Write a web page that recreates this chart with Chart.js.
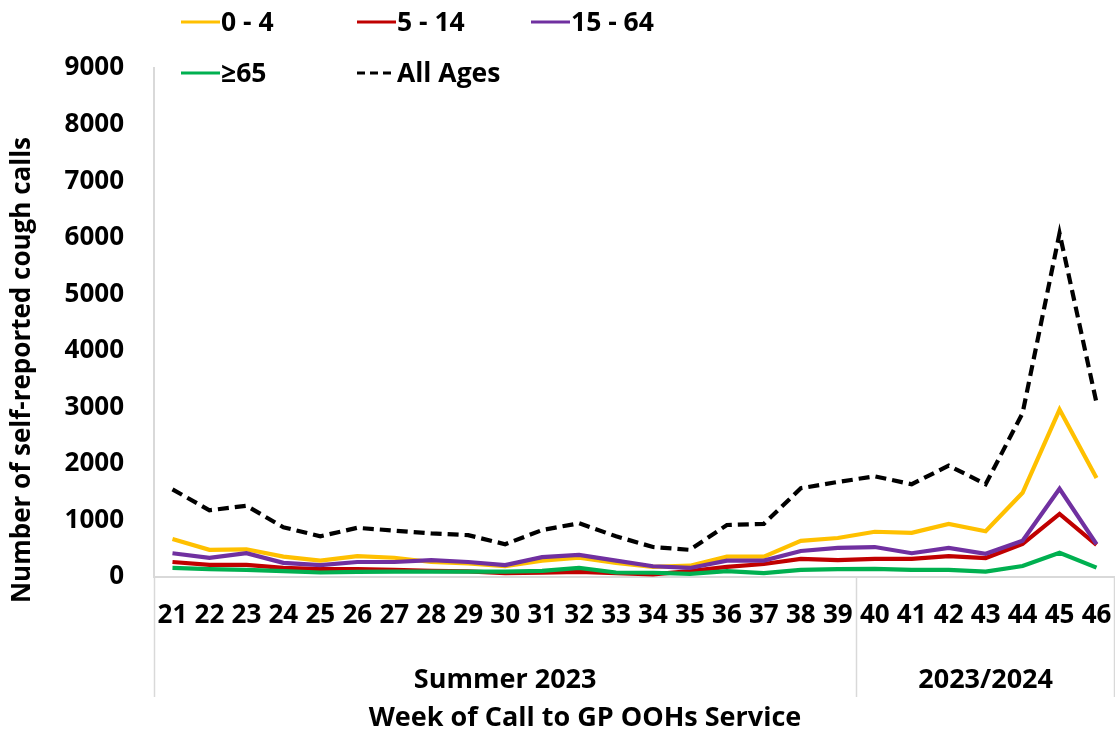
<!DOCTYPE html>
<html>
<head>
<meta charset="utf-8">
<script src="https://cdn.jsdelivr.net/npm/chart.js@4.4.1/dist/chart.umd.min.js"></script>
<style>
  html,body{margin:0;padding:0;background:#fff;}
  #wrap{width:1115px;height:732px;}
</style>
</head>
<body>
<div id="wrap"><canvas id="c" width="1115" height="732"></canvas></div>
<script>
// ---- data ----
const weeks = ['21','22','23','24','25','26','27','28','29','30','31','32','33','34','35','36','37','38','39','40','41','42','43','44','45','46'];
const groupLabels = ['Summer 2023', '2023/2024'];
const groupSizes = [19, 7];
const yTicks = [0,1000,2000,3000,4000,5000,6000,7000,8000,9000];
const seriesNames = ['0 - 4', '5 - 14', '15 - 64', '\u226565', 'All Ages'];
const age0_4   = [670,480,490,360,290,370,340,265,240,190,290,340,250,180,200,360,360,640,690,800,780,940,810,1490,2960,1750];
const age5_14  = [265,215,215,160,140,140,125,110,100,70,75,90,70,45,105,180,230,320,300,320,320,370,335,585,1115,570];
const age15_64 = [420,340,420,250,210,265,265,300,265,210,350,390,290,190,160,290,290,460,515,530,420,515,410,640,1560,580];
const age65    = [160,140,125,105,80,90,95,95,95,95,110,160,80,75,55,105,70,125,140,145,125,125,95,195,430,165];
const allAges  = [1550,1180,1260,880,720,870,820,770,740,580,830,950,720,530,480,920,940,1570,1680,1780,1640,1970,1640,2900,6080,3080];
const xTitle = 'Week of Call to GP OOHs Service';
const yTitle = 'Number of self-reported cough calls';

// ---- styles ----
const colors = ['#FFC000', '#C00000', '#7030A0', '#00B050', '#000000'];
const FONT = '"Open Sans", "Liberation Sans", sans-serif';
const AXIS_GREY = '#D9D9D9';

const seriesValues = [age0_4, age5_14, age15_64, age65, allAges];
const datasets = seriesValues.map((vals, i) => ({
  label: seriesNames[i],
  data: vals,
  borderColor: colors[i],
  backgroundColor: colors[i],
  borderWidth: 4.2,
  borderDash: i === 4 ? [11, 6] : [],
  pointRadius: 0,
  pointHoverRadius: 0,
  tension: 0,
  fill: false,
  order: 5 - i
}));

const legendPlugin = {
  id: 'customLegend',
  afterDraw(chart) {
    const ctx = chart.ctx;
    const cols = [181, 357, 531];
    const rows = [22, 73];
    ctx.save();
    ctx.font = 'bold 26.5px ' + FONT;
    ctx.textBaseline = 'middle';
    ctx.textAlign = 'left';
    chart.data.datasets.forEach((ds, i) => {
      const x = cols[i % 3], y = rows[Math.floor(i / 3)];
      ctx.beginPath();
      ctx.strokeStyle = ds.borderColor;
      ctx.lineWidth = 3;
      ctx.setLineDash(ds.borderDash && ds.borderDash.length ? [8, 5] : []);
      ctx.moveTo(x, y);
      ctx.lineTo(x + 39, y);
      ctx.stroke();
      ctx.setLineDash([]);
      ctx.fillStyle = '#000';
      ctx.fillText(ds.label, x + 40, y + 1);
    });
    ctx.restore();
  }
};

const groupPlugin = {
  id: 'groupAxis',
  afterDraw(chart) {
    const ctx = chart.ctx;
    const area = chart.chartArea;
    const x = chart.scales.x;
    const band = (area.right - area.left) / weeks.length;
    ctx.save();
    ctx.strokeStyle = AXIS_GREY;
    ctx.lineWidth = 1.5;
    let start = 0;
    const edges = [area.left];
    groupSizes.forEach(n => {
      const end = start + n - 1;
      edges.push(x.getPixelForValue(end) + band / 2);
      start += n;
    });
    edges.forEach(px => {
      const xx = Math.min(Math.round(px), chart.width - 1) + 0.5;
      ctx.beginPath();
      ctx.moveTo(xx, area.bottom);
      ctx.lineTo(xx, area.bottom + 120);
      ctx.stroke();
    });
    ctx.fillStyle = '#000';
    ctx.textAlign = 'center';
    ctx.textBaseline = 'middle';
    ctx.font = 'bold 27px ' + FONT;
    start = 0;
    groupSizes.forEach((n, g) => {
      const a = x.getPixelForValue(start), b = x.getPixelForValue(start + n - 1);
      ctx.fillText(groupLabels[g], (a + b) / 2, area.bottom + 103);
      start += n;
    });
    // axis titles
    ctx.font = 'bold 27px ' + FONT;
    ctx.fillText(xTitle, 585, 718);
    ctx.save();
    ctx.translate(23, 370);
    ctx.rotate(-Math.PI / 2);
    ctx.font = 'bold 26px ' + FONT;
    ctx.fillText(yTitle, 0, 0);
    ctx.restore();
    ctx.restore();
  }
};

new Chart(document.getElementById('c'), {
  type: 'line',
  data: { labels: weeks, datasets },
  options: {
    responsive: false,
    animation: false,
    events: [],
    layout: { padding: { top: 68, right: 0, bottom: 0, left: 0 } },
    plugins: { legend: { display: false }, tooltip: { enabled: false }, title: { display: false } },
    scales: {
      x: {
        offset: true,
        grid: { display: false, drawTicks: false },
        border: { display: true, color: AXIS_GREY, width: 2 },
        ticks: {
          autoSkip: false, maxRotation: 0, minRotation: 0,
          padding: 23,
          color: '#000',
          font: { family: FONT, size: 26, weight: 'bold' }
        },
        afterFit(scale) { scale.height = 155; scale.paddingLeft = 0; scale.paddingRight = 0; }
      },
      y: {
        min: 0, max: 9000,
        afterBuildTicks(scale) { scale.ticks = yTicks.map(v => ({ value: v })); },
        grid: { display: false, drawTicks: false },
        border: { display: true, color: AXIS_GREY, width: 2 },
        ticks: {
          padding: 30,
          color: '#000',
          font: { family: FONT, size: 26, weight: 'bold' },
          callback: v => String(v)
        },
        afterFit(scale) { scale.width = 154; }
      }
    }
  },
  plugins: [legendPlugin, groupPlugin]
});
</script>
</body>
</html>
